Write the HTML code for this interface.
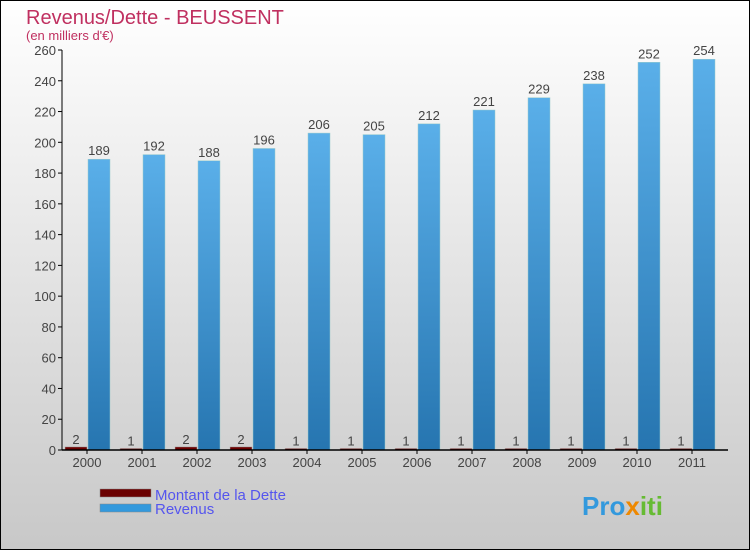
<!DOCTYPE html>
<html><head><meta charset="utf-8"><style>
body{margin:0;width:750px;height:550px;overflow:hidden}
svg{display:block;font-family:"Liberation Sans","DejaVu Sans",sans-serif}
</style></head><body>
<svg width="750" height="550">
<defs>
<linearGradient id="bg" x1="0" y1="0" x2="0" y2="1"><stop offset="0" stop-color="#ffffff"/><stop offset="1" stop-color="#c8c8c8"/></linearGradient>
<linearGradient id="rev" x1="0" y1="0" x2="0" y2="1"><stop offset="0" stop-color="#5aafe9"/><stop offset="1" stop-color="#2675b0"/></linearGradient>
</defs>
<rect x="0.5" y="0.5" width="749" height="549" fill="url(#bg)" stroke="#000"/>
<text x="26" y="24" font-size="20" fill="#c03060">Revenus/Dette - BEUSSENT</text>
<text x="26" y="40" font-size="13" fill="#c03060">(en milliers d'€)</text>
<g id="plot"></g>
<g>
<rect x="100" y="489" width="51" height="8" fill="#6b0000" stroke="#888" stroke-width="0.5"/>
<text x="155" y="500" font-size="15" fill="#5555ee">Montant de la Dette</text>
<rect x="100" y="504" width="51" height="8" fill="#3399dd" stroke="#888" stroke-width="0.5"/>
<text x="155" y="514" font-size="15" fill="#5555ee">Revenus</text>
</g>
<text x="582" y="515" font-size="26" font-weight="bold" fill="#3399dd">Pro<tspan fill="#ee8800">x</tspan><tspan fill="#66bb33">iti</tspan></text>
</svg>
<script>
const years=["2000","2001","2002","2003","2004","2005","2006","2007","2008","2009","2010","2011"];
const dette=[2,1,2,2,1,1,1,1,1,1,1,1];
const revenus=[189,192,188,196,206,205,212,221,229,238,252,254];
const yTicks=[0,20,40,60,80,100,120,140,160,180,200,220,240,260];
const NS="http://www.w3.org/2000/svg";
const g=document.getElementById('plot');
const x0=62,x1=722,yb=450,yt=50,ymax=260;
const gw=(x1-x0)/years.length;
function ys(v){return yb-v/ymax*(yb-yt);}
function mk(t,a){const e=document.createElementNS(NS,t);for(const k in a)e.setAttribute(k,a[k]);g.appendChild(e);return e;}
yTicks.forEach(v=>{
 const l=mk('line',{x1:x0-4,x2:x0,y1:ys(v),y2:ys(v),stroke:'#000'});
 
 
 const t=mk('text',{x:x0-6,y:ys(v)+5,'font-size':13,'text-anchor':'end',fill:'#444'});
 t.textContent=v;
 
 
});
years.forEach((yr,i)=>{
 const gx=x0+i*gw;
 const d=mk('rect',{x:gx+3,y:ys(dette[i]),width:22,height:yb-ys(dette[i]),fill:'#6b0000',stroke:'#aaa','stroke-width':0.5});
 
 
 const dl=mk('text',{x:gx+14,y:ys(dette[i])-3,'font-size':13,'text-anchor':'middle',fill:'#444'});
 dl.textContent=dette[i];
 
 
 const r=mk('rect',{x:gx+26,y:ys(revenus[i]),width:22,height:yb-ys(revenus[i]),fill:'url(#rev)',stroke:'#9cc','stroke-width':0.5});
 
 
 const rl=mk('text',{x:gx+37,y:ys(revenus[i])-4,'font-size':13,'text-anchor':'middle',fill:'#444'});
 rl.textContent=revenus[i];
 
 
 const tk=mk('line',{x1:gx+25,x2:gx+25,y1:yb,y2:yb+4,stroke:'#000'});
 
 
 const xl=mk('text',{x:gx+25,y:yb+17,'font-size':13,'text-anchor':'middle',fill:'#444'});
 xl.textContent=yr;
 
 
});
const ya=mk('line',{x1:x0,x2:x0,y1:yt,y2:yb,stroke:'#000'});


const xa=mk('line',{x1:x0,x2:x1+6,y1:yb,y2:yb,stroke:'#000','stroke-width':1.5});


</script>
</body></html>
